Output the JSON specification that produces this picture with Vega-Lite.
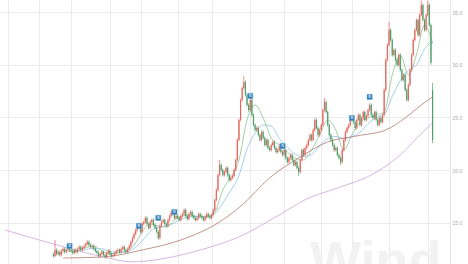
{
"$schema":"https://vega.github.io/schema/vega-lite/v6.json",
"width":450,"height":264,
"autosize":{"type":"none"},
"padding":{"left":0,"top":0,"right":18,"bottom":0},
"background":"white",
"config":{"view":{"stroke":null}},
"datasets":{
"k":[
{"d":30,"o":12.05,"c":11.87,"h":12.2,"l":11.72},{"d":31,"o":11.87,"c":12.44,"h":13.39,"l":11.75},{"d":32,"o":12.44,"c":12.06,"h":12.59,"l":11.91},{"d":33,"o":12.06,"c":12.25,"h":12.4,"l":11.91},{"d":34,"o":12.25,"c":11.97,"h":12.4,"l":11.82},{"d":35,"o":11.97,"c":12.35,"h":12.5,"l":11.82},{"d":36,"o":12.35,"c":12.54,"h":12.69,"l":12.2},{"d":37,"o":12.54,"c":12.25,"h":12.69,"l":12.1},{"d":38,"o":12.25,"c":12.44,"h":12.59,"l":12.1},{"d":39,"o":12.44,"c":12.63,"h":12.78,"l":12.29},
{"d":40,"o":12.63,"c":12.44,"h":12.78,"l":12.29},{"d":41,"o":12.44,"c":12.35,"h":12.59,"l":12.2},{"d":42,"o":12.35,"c":12.16,"h":12.5,"l":12.01},{"d":43,"o":12.16,"c":12.44,"h":12.59,"l":12.01},{"d":44,"o":12.44,"c":12.25,"h":12.59,"l":12.1},{"d":45,"o":12.25,"c":12.54,"h":12.69,"l":12.1},{"d":46,"o":12.54,"c":12.73,"h":12.88,"l":12.39},{"d":47,"o":12.73,"c":12.44,"h":12.88,"l":12.29},{"d":48,"o":12.44,"c":12.63,"h":12.78,"l":12.29},{"d":49,"o":12.63,"c":12.82,"h":12.97,"l":12.48},
{"d":50,"o":12.82,"c":13.01,"h":13.16,"l":12.67},{"d":51,"o":13.01,"c":13.2,"h":13.4,"l":12.86},{"d":52,"o":13.2,"c":12.92,"h":13.35,"l":12.77},{"d":53,"o":12.92,"c":12.73,"h":13.07,"l":12.58},{"d":54,"o":12.73,"c":12.82,"h":12.97,"l":12.58},{"d":55,"o":12.82,"c":12.54,"h":12.97,"l":12.39},{"d":56,"o":12.54,"c":12.35,"h":12.69,"l":12.2},{"d":57,"o":12.35,"c":12.16,"h":12.5,"l":12.01},{"d":58,"o":12.16,"c":11.87,"h":12.31,"l":11.72},{"d":59,"o":11.87,"c":12.06,"h":12.21,"l":11.72},
{"d":60,"o":12.06,"c":12.25,"h":12.4,"l":11.91},{"d":61,"o":12.25,"c":11.97,"h":12.4,"l":11.82},{"d":62,"o":11.97,"c":11.78,"h":12.12,"l":11.63},{"d":63,"o":11.78,"c":12.16,"h":12.31,"l":11.63},{"d":64,"o":12.16,"c":12.35,"h":12.5,"l":12.01},{"d":65,"o":12.35,"c":12.06,"h":12.5,"l":11.91},{"d":66,"o":12.06,"c":11.87,"h":12.21,"l":11.72},{"d":67,"o":11.87,"c":11.97,"h":12.12,"l":11.72},{"d":68,"o":11.97,"c":12.16,"h":12.31,"l":11.82},{"d":69,"o":12.16,"c":12.35,"h":12.5,"l":12.01},
{"d":70,"o":12.35,"c":12.44,"h":12.59,"l":12.2},{"d":71,"o":12.44,"c":12.25,"h":12.59,"l":12.1},{"d":72,"o":12.25,"c":12.54,"h":12.69,"l":12.1},{"d":73,"o":12.54,"c":12.73,"h":12.88,"l":12.39},{"d":74,"o":12.73,"c":12.44,"h":12.88,"l":12.29},{"d":75,"o":12.44,"c":12.25,"h":12.59,"l":12.1},{"d":76,"o":12.25,"c":12.54,"h":12.69,"l":12.1},{"d":77,"o":12.54,"c":12.82,"h":12.97,"l":12.39},{"d":78,"o":12.82,"c":13.2,"h":13.35,"l":12.67},{"d":79,"o":13.2,"c":13.58,"h":13.73,"l":13.05},
{"d":80,"o":13.58,"c":13.96,"h":14.11,"l":13.43},{"d":81,"o":13.96,"c":14.34,"h":14.49,"l":13.81},{"d":82,"o":14.34,"c":14.72,"h":14.87,"l":14.19},{"d":83,"o":14.72,"c":14.53,"h":14.87,"l":14.38},{"d":84,"o":14.53,"c":14.15,"h":14.68,"l":14.0},{"d":85,"o":14.15,"c":14.91,"h":15.06,"l":14.0},{"d":86,"o":14.91,"c":15.1,"h":15.25,"l":14.76},{"d":87,"o":15.1,"c":15.48,"h":15.63,"l":14.95},{"d":88,"o":15.48,"c":14.91,"h":15.63,"l":14.76},{"d":89,"o":14.91,"c":14.53,"h":15.06,"l":14.38},
{"d":90,"o":14.53,"c":15.1,"h":15.25,"l":14.38},{"d":91,"o":15.1,"c":15.29,"h":15.44,"l":14.95},{"d":92,"o":15.29,"c":14.81,"h":15.44,"l":14.66},{"d":93,"o":14.81,"c":14.53,"h":14.96,"l":14.38},{"d":94,"o":14.53,"c":14.15,"h":14.68,"l":14.0},{"d":95,"o":14.15,"c":13.58,"h":14.3,"l":13.39},{"d":96,"o":13.58,"c":14.72,"h":14.87,"l":13.43},{"d":97,"o":14.72,"c":15.1,"h":15.25,"l":14.57},{"d":98,"o":15.1,"c":15.29,"h":15.44,"l":14.95},{"d":99,"o":15.29,"c":14.91,"h":15.44,"l":14.76},
{"d":100,"o":14.91,"c":14.72,"h":15.06,"l":14.57},{"d":101,"o":14.72,"c":15.29,"h":15.44,"l":14.57},{"d":102,"o":15.29,"c":15.66,"h":15.81,"l":15.14},{"d":103,"o":15.66,"c":16.04,"h":16.19,"l":15.51},{"d":104,"o":16.04,"c":15.85,"h":16.19,"l":15.7},{"d":105,"o":15.85,"c":15.48,"h":16.0,"l":15.33},{"d":106,"o":15.48,"c":15.66,"h":15.81,"l":15.33},{"d":107,"o":15.66,"c":15.48,"h":15.81,"l":15.33},{"d":108,"o":15.48,"c":15.29,"h":15.63,"l":15.14},{"d":109,"o":15.29,"c":15.66,"h":15.81,"l":15.14},
{"d":110,"o":15.66,"c":15.85,"h":16.0,"l":15.51},{"d":111,"o":15.85,"c":16.23,"h":16.38,"l":15.7},{"d":112,"o":16.23,"c":15.66,"h":16.38,"l":15.51},{"d":113,"o":15.66,"c":15.38,"h":15.81,"l":15.23},{"d":114,"o":15.38,"c":15.85,"h":16.0,"l":15.23},{"d":115,"o":15.85,"c":16.04,"h":16.19,"l":15.7},{"d":116,"o":16.04,"c":15.66,"h":16.19,"l":15.51},{"d":117,"o":15.66,"c":15.48,"h":15.81,"l":15.33},{"d":118,"o":15.48,"c":15.29,"h":15.63,"l":15.14},{"d":119,"o":15.29,"c":15.48,"h":15.63,"l":15.14},
{"d":120,"o":15.48,"c":15.85,"h":16.0,"l":15.33},{"d":121,"o":15.85,"c":15.66,"h":16.0,"l":15.51},{"d":122,"o":15.66,"c":15.48,"h":15.81,"l":15.33},{"d":123,"o":15.48,"c":15.29,"h":15.63,"l":15.14},{"d":124,"o":15.29,"c":15.57,"h":15.72,"l":15.14},{"d":125,"o":15.57,"c":15.85,"h":16.0,"l":15.42},{"d":126,"o":15.85,"c":15.66,"h":16.0,"l":15.51},{"d":127,"o":15.66,"c":15.48,"h":15.81,"l":15.33},{"d":128,"o":15.48,"c":15.76,"h":15.91,"l":15.33},{"d":129,"o":15.76,"c":16.23,"h":16.38,"l":15.61},
{"d":130,"o":16.23,"c":17.18,"h":17.33,"l":16.08},{"d":131,"o":17.18,"c":18.13,"h":18.28,"l":17.03},{"d":132,"o":18.13,"c":19.55,"h":19.7,"l":17.98},{"d":133,"o":19.55,"c":20.5,"h":20.97,"l":19.4},{"d":134,"o":20.5,"c":20.03,"h":20.65,"l":19.88},{"d":135,"o":20.03,"c":19.55,"h":20.18,"l":19.4},{"d":136,"o":19.55,"c":19.84,"h":19.99,"l":19.4},{"d":137,"o":19.84,"c":20.22,"h":20.37,"l":19.69},{"d":138,"o":20.22,"c":19.55,"h":20.37,"l":19.4},{"d":139,"o":19.55,"c":19.08,"h":19.7,"l":18.93},
{"d":140,"o":19.08,"c":19.27,"h":19.42,"l":18.93},{"d":141,"o":19.27,"c":19.46,"h":19.61,"l":19.12},{"d":142,"o":19.46,"c":20.03,"h":20.18,"l":19.31},{"d":143,"o":20.03,"c":20.97,"h":21.12,"l":19.88},{"d":144,"o":20.97,"c":22.87,"h":23.02,"l":20.82},{"d":145,"o":22.87,"c":24.77,"h":24.92,"l":22.72},{"d":146,"o":24.77,"c":26.66,"h":26.81,"l":24.62},{"d":147,"o":26.66,"c":27.8,"h":27.95,"l":26.51},{"d":148,"o":27.8,"c":28.37,"h":28.94,"l":27.65},{"d":149,"o":28.37,"c":27.14,"h":28.52,"l":26.99},
{"d":150,"o":27.14,"c":26.19,"h":27.29,"l":26.04},{"d":151,"o":26.19,"c":25.71,"h":26.34,"l":25.56},{"d":152,"o":25.71,"c":26.66,"h":26.81,"l":25.56},{"d":153,"o":26.66,"c":25.24,"h":26.81,"l":25.09},{"d":154,"o":25.24,"c":24.29,"h":25.39,"l":24.14},{"d":155,"o":24.29,"c":23.82,"h":24.44,"l":23.67},{"d":156,"o":23.82,"c":24.01,"h":24.16,"l":23.67},{"d":157,"o":24.01,"c":23.34,"h":24.16,"l":23.19},{"d":158,"o":23.34,"c":22.87,"h":23.49,"l":22.72},{"d":159,"o":22.87,"c":23.63,"h":23.78,"l":22.72},
{"d":160,"o":23.63,"c":23.06,"h":23.78,"l":22.91},{"d":161,"o":23.06,"c":22.4,"h":23.21,"l":22.25},{"d":162,"o":22.4,"c":22.87,"h":23.02,"l":22.25},{"d":163,"o":22.87,"c":22.11,"h":23.02,"l":21.96},{"d":164,"o":22.11,"c":21.92,"h":22.26,"l":21.77},{"d":165,"o":21.92,"c":22.4,"h":22.55,"l":21.77},{"d":166,"o":22.4,"c":22.68,"h":22.83,"l":22.25},{"d":167,"o":22.68,"c":22.11,"h":22.83,"l":21.96},{"d":168,"o":22.11,"c":21.73,"h":22.26,"l":21.58},{"d":169,"o":21.73,"c":21.92,"h":22.07,"l":21.58},
{"d":170,"o":21.92,"c":22.3,"h":22.45,"l":21.77},{"d":171,"o":22.3,"c":21.73,"h":22.45,"l":21.58},{"d":172,"o":21.73,"c":21.45,"h":21.88,"l":21.3},{"d":173,"o":21.45,"c":21.92,"h":22.07,"l":21.3},{"d":174,"o":21.92,"c":21.16,"h":22.07,"l":21.01},{"d":175,"o":21.16,"c":20.78,"h":21.31,"l":20.63},{"d":176,"o":20.78,"c":21.16,"h":21.31,"l":20.63},{"d":177,"o":21.16,"c":21.45,"h":21.6,"l":21.01},{"d":178,"o":21.45,"c":20.97,"h":21.6,"l":20.82},{"d":179,"o":20.97,"c":20.5,"h":21.12,"l":20.35},
{"d":180,"o":20.5,"c":20.78,"h":20.93,"l":20.35},{"d":181,"o":20.78,"c":20.22,"h":20.93,"l":20.07},{"d":182,"o":20.22,"c":19.84,"h":20.37,"l":19.46},{"d":183,"o":19.84,"c":20.97,"h":21.12,"l":19.69},{"d":184,"o":20.97,"c":21.92,"h":22.07,"l":20.82},{"d":185,"o":21.92,"c":21.45,"h":22.07,"l":21.3},{"d":186,"o":21.45,"c":22.11,"h":22.26,"l":21.3},{"d":187,"o":22.11,"c":22.4,"h":22.55,"l":21.96},{"d":188,"o":22.4,"c":22.87,"h":23.02,"l":22.25},{"d":189,"o":22.87,"c":23.34,"h":23.49,"l":22.72},
{"d":190,"o":23.34,"c":22.87,"h":23.49,"l":22.72},{"d":191,"o":22.87,"c":23.82,"h":23.97,"l":22.72},{"d":192,"o":23.82,"c":24.77,"h":24.92,"l":23.67},{"d":193,"o":24.77,"c":24.01,"h":24.92,"l":23.86},{"d":194,"o":24.01,"c":23.34,"h":24.16,"l":23.19},{"d":195,"o":23.34,"c":23.82,"h":23.97,"l":23.19},{"d":196,"o":23.82,"c":24.29,"h":24.44,"l":23.67},{"d":197,"o":24.29,"c":25.71,"h":25.86,"l":24.14},{"d":198,"o":25.71,"c":26.47,"h":26.85,"l":25.56},{"d":199,"o":26.47,"c":25.52,"h":26.62,"l":25.37},
{"d":200,"o":25.52,"c":24.29,"h":25.67,"l":24.14},{"d":201,"o":24.29,"c":23.34,"h":24.44,"l":23.19},{"d":202,"o":23.34,"c":22.87,"h":23.49,"l":22.72},{"d":203,"o":22.87,"c":22.4,"h":23.02,"l":22.25},{"d":204,"o":22.4,"c":21.92,"h":22.55,"l":21.77},{"d":205,"o":21.92,"c":22.11,"h":22.26,"l":21.77},{"d":206,"o":22.11,"c":21.45,"h":22.26,"l":21.3},{"d":207,"o":21.45,"c":21.16,"h":21.6,"l":21.01},{"d":208,"o":21.16,"c":20.78,"h":21.31,"l":20.5},{"d":209,"o":20.78,"c":21.92,"h":22.07,"l":20.63},
{"d":210,"o":21.92,"c":22.87,"h":23.02,"l":21.77},{"d":211,"o":22.87,"c":23.63,"h":23.78,"l":22.72},{"d":212,"o":23.63,"c":24.01,"h":24.16,"l":23.48},{"d":213,"o":24.01,"c":24.29,"h":24.44,"l":23.86},{"d":214,"o":24.29,"c":24.77,"h":24.92,"l":24.14},{"d":215,"o":24.77,"c":24.95,"h":25.1,"l":24.62},{"d":216,"o":24.95,"c":24.57,"h":25.1,"l":24.42},{"d":217,"o":24.57,"c":24.01,"h":24.72,"l":23.86},{"d":218,"o":24.01,"c":24.77,"h":24.92,"l":23.86},{"d":219,"o":24.77,"c":25.24,"h":25.39,"l":24.62},
{"d":220,"o":25.24,"c":24.29,"h":25.39,"l":24.14},{"d":221,"o":24.29,"c":24.95,"h":25.1,"l":24.14},{"d":222,"o":24.95,"c":25.52,"h":25.67,"l":24.8},{"d":223,"o":25.52,"c":24.77,"h":25.67,"l":24.62},{"d":224,"o":24.77,"c":25.14,"h":25.29,"l":24.62},{"d":225,"o":25.14,"c":25.71,"h":25.86,"l":24.99},{"d":226,"o":25.71,"c":26.19,"h":26.34,"l":25.56},{"d":227,"o":26.19,"c":25.24,"h":26.34,"l":25.09},{"d":228,"o":25.24,"c":24.95,"h":25.39,"l":24.8},{"d":229,"o":24.95,"c":25.52,"h":25.67,"l":24.8},
{"d":230,"o":25.52,"c":24.77,"h":25.67,"l":24.62},{"d":231,"o":24.77,"c":24.29,"h":24.92,"l":24.14},{"d":232,"o":24.29,"c":24.95,"h":25.1,"l":24.14},{"d":233,"o":24.95,"c":24.57,"h":25.1,"l":24.42},{"d":234,"o":24.57,"c":25.24,"h":25.39,"l":24.42},{"d":235,"o":25.24,"c":27.61,"h":27.76,"l":25.09},{"d":236,"o":27.61,"c":30.45,"h":30.6,"l":27.46},{"d":237,"o":30.45,"c":31.87,"h":32.02,"l":30.3},{"d":238,"o":31.87,"c":33.3,"h":34.05,"l":31.72},{"d":239,"o":33.3,"c":32.35,"h":33.45,"l":32.2},
{"d":240,"o":32.35,"c":30.93,"h":32.5,"l":30.78},{"d":241,"o":30.93,"c":31.4,"h":31.55,"l":30.78},{"d":242,"o":31.4,"c":30.45,"h":31.55,"l":30.3},{"d":243,"o":30.45,"c":29.98,"h":30.6,"l":29.83},{"d":244,"o":29.98,"c":30.93,"h":31.08,"l":29.83},{"d":245,"o":30.93,"c":29.5,"h":31.08,"l":29.35},{"d":246,"o":29.5,"c":28.56,"h":29.65,"l":28.41},{"d":247,"o":28.56,"c":29.03,"h":29.18,"l":28.41},{"d":248,"o":29.03,"c":27.61,"h":29.18,"l":27.46},{"d":249,"o":27.61,"c":26.66,"h":27.76,"l":26.51},
{"d":250,"o":26.66,"c":28.08,"h":28.23,"l":26.51},{"d":251,"o":28.08,"c":29.5,"h":29.65,"l":27.93},{"d":252,"o":29.5,"c":30.93,"h":31.08,"l":29.35},{"d":253,"o":30.93,"c":32.35,"h":32.5,"l":30.78},{"d":254,"o":32.35,"c":33.3,"h":33.45,"l":32.2},{"d":255,"o":33.3,"c":34.24,"h":34.39,"l":33.15},{"d":256,"o":34.24,"c":32.82,"h":34.39,"l":32.67},{"d":257,"o":32.82,"c":34.72,"h":34.87,"l":32.67},{"d":258,"o":34.72,"c":35.67,"h":36.1,"l":34.57},{"d":259,"o":35.67,"c":34.24,"h":35.82,"l":34.09},
{"d":260,"o":34.24,"c":33.3,"h":34.39,"l":33.15},{"d":261,"o":33.3,"c":34.72,"h":34.87,"l":33.15},{"d":262,"o":34.72,"c":35.67,"h":36.1,"l":34.57},{"d":263,"o":35.67,"c":33.77,"h":35.82,"l":33.62},{"d":264,"o":33.77,"c":30.2,"h":33.92,"l":30.0},{"d":265,"o":27.6,"c":22.87,"h":28.3,"l":22.58}
],
"ma":[
{"s":"MA5","d":39,"v":12.3},{"s":"MA5","d":45,"v":12.35},{"s":"MA5","d":50,"v":12.63},{"s":"MA5","d":55,"v":12.82},{"s":"MA5","d":60,"v":12.35},{"s":"MA5","d":65,"v":12.06},{"s":"MA5","d":70,"v":12.16},{"s":"MA5","d":75,"v":12.35},{"s":"MA5","d":80,"v":12.92},{"s":"MA5","d":85,"v":14.15},{"s":"MA5","d":90,"v":14.91},{"s":"MA5","d":95,"v":14.72},{"s":"MA5","d":100,"v":14.62},{"s":"MA5","d":105,"v":15.29},{"s":"MA5","d":110,"v":15.66},{"s":"MA5","d":115,"v":15.76},{"s":"MA5","d":120,"v":15.57},{"s":"MA5","d":125,"v":15.57},{"s":"MA5","d":130,"v":16.04},{"s":"MA5","d":135,"v":18.13},{"s":"MA5","d":140,"v":19.36},{"s":"MA5","d":145,"v":20.97},{"s":"MA5","d":150,"v":24.77},{"s":"MA5","d":155,"v":26.19},{"s":"MA5","d":160,"v":24.95},{"s":"MA5","d":165,"v":23.06},{"s":"MA5","d":170,"v":22.4},{"s":"MA5","d":175,"v":21.73},{"s":"MA5","d":180,"v":21.16},{"s":"MA5","d":185,"v":20.97},{"s":"MA5","d":190,"v":21.92},{"s":"MA5","d":195,"v":23.34},{"s":"MA5","d":200,"v":24.77},{"s":"MA5","d":205,"v":23.82},{"s":"MA5","d":210,"v":21.92},{"s":"MA5","d":215,"v":23.34},{"s":"MA5","d":220,"v":24.57},{"s":"MA5","d":225,"v":24.95},{"s":"MA5","d":230,"v":25.24},{"s":"MA5","d":235,"v":25.52},{"s":"MA5","d":240,"v":29.03},{"s":"MA5","d":245,"v":30.93},{"s":"MA5","d":250,"v":29.03},{"s":"MA5","d":255,"v":30.93},{"s":"MA5","d":260,"v":33.77},{"s":"MA5","d":265,"v":32.0},
{"s":"MA20","d":49,"v":12.4},{"s":"MA20","d":55,"v":12.6},{"s":"MA20","d":60,"v":12.55},{"s":"MA20","d":65,"v":12.3},{"s":"MA20","d":70,"v":12.2},{"s":"MA20","d":75,"v":12.25},{"s":"MA20","d":80,"v":12.6},{"s":"MA20","d":85,"v":13.3},{"s":"MA20","d":90,"v":14.2},{"s":"MA20","d":95,"v":14.6},{"s":"MA20","d":100,"v":14.7},{"s":"MA20","d":105,"v":15.0},{"s":"MA20","d":110,"v":15.4},{"s":"MA20","d":115,"v":15.6},{"s":"MA20","d":120,"v":15.65},{"s":"MA20","d":125,"v":15.6},{"s":"MA20","d":130,"v":15.9},{"s":"MA20","d":135,"v":16.9},{"s":"MA20","d":140,"v":18.1},{"s":"MA20","d":145,"v":19.5},{"s":"MA20","d":150,"v":22.0},{"s":"MA20","d":155,"v":23.5},{"s":"MA20","d":160,"v":24.3},{"s":"MA20","d":165,"v":24.2},{"s":"MA20","d":170,"v":23.0},{"s":"MA20","d":175,"v":22.2},{"s":"MA20","d":180,"v":21.5},{"s":"MA20","d":185,"v":21.3},{"s":"MA20","d":190,"v":21.5},{"s":"MA20","d":195,"v":22.3},{"s":"MA20","d":200,"v":23.0},{"s":"MA20","d":205,"v":23.2},{"s":"MA20","d":210,"v":23.0},{"s":"MA20","d":215,"v":23.2},{"s":"MA20","d":220,"v":23.6},{"s":"MA20","d":225,"v":24.4},{"s":"MA20","d":230,"v":25.0},{"s":"MA20","d":235,"v":25.3},{"s":"MA20","d":240,"v":27.0},{"s":"MA20","d":245,"v":28.5},{"s":"MA20","d":250,"v":29.5},{"s":"MA20","d":255,"v":30.0},{"s":"MA20","d":260,"v":31.5},{"s":"MA20","d":265,"v":32.2},
{"s":"MA60","d":36,"v":11.68},{"s":"MA60","d":61,"v":11.78},{"s":"MA60","d":85,"v":12.44},{"s":"MA60","d":109,"v":13.39},{"s":"MA60","d":133,"v":15.1},{"s":"MA60","d":147,"v":16.71},{"s":"MA60","d":164,"v":19.27},{"s":"MA60","d":182,"v":21.16},{"s":"MA60","d":200,"v":22.68},{"s":"MA60","d":218,"v":23.25},{"s":"MA60","d":236,"v":23.82},{"s":"MA60","d":248,"v":24.95},{"s":"MA60","d":258,"v":26.19},{"s":"MA60","d":265,"v":26.95},
{"s":"MA250","d":0,"v":14.34},{"s":"MA250","d":30,"v":13.01},{"s":"MA250","d":61,"v":11.78},{"s":"MA250","d":79,"v":11.31},{"s":"MA250","d":97,"v":11.59},{"s":"MA250","d":121,"v":12.44},{"s":"MA250","d":145,"v":13.68},{"s":"MA250","d":170,"v":15.76},{"s":"MA250","d":187,"v":17.28},{"s":"MA250","d":206,"v":18.32},{"s":"MA250","d":227,"v":19.55},{"s":"MA250","d":245,"v":21.45},{"s":"MA250","d":259,"v":23.63},{"s":"MA250","d":265,"v":24.48}
],
"sig":[
{"d":40,"v":12.82,"t":"B"},{"d":83,"v":14.72,"t":"B"},{"d":95,"v":15.48,"t":"B"},{"d":105,"v":16.04,"t":"B"},{"d":152,"v":27.04,"t":"B"},{"d":172,"v":22.3,"t":"B"},{"d":215,"v":24.95,"t":"B"},{"d":226,"v":26.95,"t":"B"}
],
"wm":[{"d":189,"v":9.7,"t":"Wind"}]
},
"layer":[
{"data":{"name":"wm"},
 "mark":{"type":"text","font":"Liberation Sans","fontWeight":"bold","fontSize":54,"color":"#f2f2f2","align":"left","baseline":"alphabetic"},
 "encoding":{
  "x":{"field":"d","type":"quantitative","scale":{"domain":[0,272.7],"nice":false,"zero":false},
   "axis":{"values":[2,21,41,65,84,107,128,152,173,196,215,238,262],"labels":false,"ticks":false,"domain":false,"grid":true,"gridColor":"#ebebeb","gridWidth":1,"title":null}},
  "y":{"field":"v","type":"quantitative","scale":{"domain":[11.11,36.14],"nice":false,"zero":false},
   "axis":{"orient":"right","values":[15,20,25,30,35],"format":".1f","labelFontSize":5,"labelColor":"#aaaaaa","labelPadding":2,"ticks":false,"domain":true,"domainColor":"#e6e6e6","grid":true,"gridColor":"#ebebeb","gridWidth":1,"title":null}},
  "text":{"field":"t"}}},
{"data":{"name":"ma"},
 "mark":{"type":"line","strokeWidth":0.8,"interpolate":"monotone","clip":true},
 "encoding":{
  "x":{"field":"d","type":"quantitative","scale":{"domain":[0,272.7],"nice":false,"zero":false},
   "axis":{"values":[2,21,41,65,84,107,128,152,173,196,215,238,262],"labels":false,"ticks":false,"domain":false,"grid":true,"gridColor":"#ebebeb","gridWidth":1,"title":null}},
  "y":{"field":"v","type":"quantitative","scale":{"domain":[11.11,36.14],"nice":false,"zero":false},
   "axis":{"orient":"right","values":[15,20,25,30,35],"format":".1f","labelFontSize":5,"labelColor":"#aaaaaa","labelPadding":2,"ticks":false,"domain":true,"domainColor":"#e6e6e6","grid":true,"gridColor":"#ebebeb","gridWidth":1,"title":null}},
  "color":{"field":"s","type":"nominal","legend":null,"scale":{"domain":["MA5","MA20","MA60","MA250"],"range":["#8fc08f","#8cc3e3","#b07a6c","#c9a3d8"]}}}},
{"data":{"name":"k"},
 "mark":{"type":"rule","strokeWidth":0.7},
 "encoding":{
  "x":{"field":"d","type":"quantitative","scale":{"domain":[0,272.7],"nice":false,"zero":false},
   "axis":{"values":[2,21,41,65,84,107,128,152,173,196,215,238,262],"labels":false,"ticks":false,"domain":false,"grid":true,"gridColor":"#ebebeb","gridWidth":1,"title":null}},
  "y":{"field":"l","type":"quantitative","scale":{"domain":[11.11,36.14],"nice":false,"zero":false},
   "axis":{"orient":"right","values":[15,20,25,30,35],"format":".1f","labelFontSize":5,"labelColor":"#aaaaaa","labelPadding":2,"ticks":false,"domain":true,"domainColor":"#e6e6e6","grid":true,"gridColor":"#ebebeb","gridWidth":1,"title":null}},
  "y2":{"field":"h"},
  "color":{"condition":{"test":"datum.c >= datum.o","value":"#e3675e"},"value":"#4f9e6a"}}},
{"data":{"name":"k"},
 "mark":{"type":"bar","width":1.2},
 "encoding":{
  "x":{"field":"d","type":"quantitative","scale":{"domain":[0,272.7],"nice":false,"zero":false},
   "axis":{"values":[2,21,41,65,84,107,128,152,173,196,215,238,262],"labels":false,"ticks":false,"domain":false,"grid":true,"gridColor":"#ebebeb","gridWidth":1,"title":null}},
  "y":{"field":"o","type":"quantitative","scale":{"domain":[11.11,36.14],"nice":false,"zero":false},
   "axis":{"orient":"right","values":[15,20,25,30,35],"format":".1f","labelFontSize":5,"labelColor":"#aaaaaa","labelPadding":2,"ticks":false,"domain":true,"domainColor":"#e6e6e6","grid":true,"gridColor":"#ebebeb","gridWidth":1,"title":null}},
  "y2":{"field":"c"},
  "color":{"condition":{"test":"datum.c >= datum.o","value":"#e3675e"},"value":"#4f9e6a"}}},
{"data":{"name":"sig"},
 "mark":{"type":"square","size":28,"filled":true,"color":"#2b7bb4","opacity":1,"stroke":"#7fb6dc","strokeWidth":0.5},
 "encoding":{
  "x":{"field":"d","type":"quantitative","scale":{"domain":[0,272.7],"nice":false,"zero":false},
   "axis":{"values":[2,21,41,65,84,107,128,152,173,196,215,238,262],"labels":false,"ticks":false,"domain":false,"grid":true,"gridColor":"#ebebeb","gridWidth":1,"title":null}},
  "y":{"field":"v","type":"quantitative","scale":{"domain":[11.11,36.14],"nice":false,"zero":false},
   "axis":{"orient":"right","values":[15,20,25,30,35],"format":".1f","labelFontSize":5,"labelColor":"#aaaaaa","labelPadding":2,"ticks":false,"domain":true,"domainColor":"#e6e6e6","grid":true,"gridColor":"#ebebeb","gridWidth":1,"title":null}}}},
{"data":{"name":"sig"},
 "mark":{"type":"text","fontSize":4,"color":"white","font":"DejaVu Sans"},
 "encoding":{
  "x":{"field":"d","type":"quantitative","scale":{"domain":[0,272.7],"nice":false,"zero":false},
   "axis":{"values":[2,21,41,65,84,107,128,152,173,196,215,238,262],"labels":false,"ticks":false,"domain":false,"grid":true,"gridColor":"#ebebeb","gridWidth":1,"title":null}},
  "y":{"field":"v","type":"quantitative","scale":{"domain":[11.11,36.14],"nice":false,"zero":false},
   "axis":{"orient":"right","values":[15,20,25,30,35],"format":".1f","labelFontSize":5,"labelColor":"#aaaaaa","labelPadding":2,"ticks":false,"domain":true,"domainColor":"#e6e6e6","grid":true,"gridColor":"#ebebeb","gridWidth":1,"title":null}},
  "text":{"field":"t"}}}
]
}
